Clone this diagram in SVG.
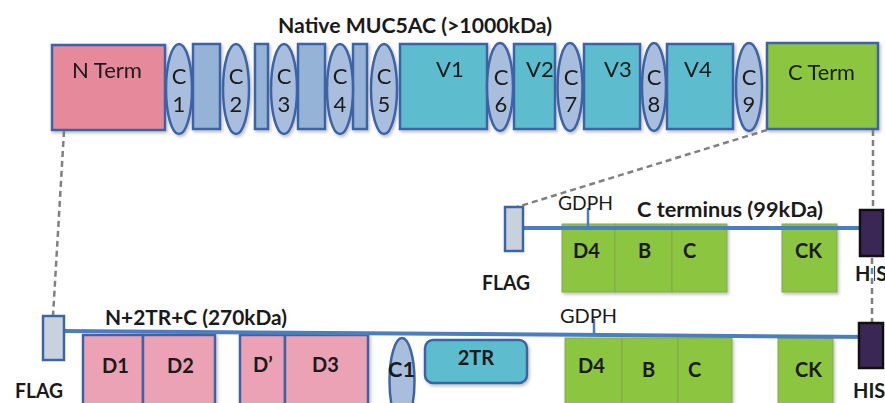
<svg xmlns="http://www.w3.org/2000/svg" width="885" height="403" viewBox="0 0 885 403">
<defs>
<filter id="sh" x="-20%" y="-20%" width="140%" height="140%">
<feDropShadow dx="1.5" dy="2" stdDeviation="1.5" flood-color="#000" flood-opacity="0.25"/>
</filter>
<style>
.b{stroke:#3C64A6;stroke-width:2.5}
.pk{fill:#E6899B}
.pl{fill:#EBA2B4}
.bl{fill:#95B3D7}
.el{fill:#A9BEDD}
.tq{fill:#5DBDCE}
.gr{fill:#8CC540}
.grb{fill:#8CC540;stroke:#86A84E;stroke-width:1}
.fl{fill:#C8D2DF;stroke:#3C64A6;stroke-width:2.5}
.his{fill:#3B2756;stroke:#111;stroke-width:2.5}
.bb{stroke:#4A7EBF;stroke-width:4;fill:none}
.tk{stroke:#4A7EBF;stroke-width:2.5}
.d{stroke:#808080;stroke-width:2.5;stroke-dasharray:6 4;fill:none}
text{font-family:Lato,"Open Sans","Liberation Sans",sans-serif;fill:#1a1a1a}
.r{font-size:22px}
.c{font-size:22px;text-anchor:middle}
.s{font-size:19px}
.bd{font-size:20px;font-weight:bold}
.t{font-size:20px;font-weight:bold}
</style>
</defs>

<text x="278" y="33" class="t" textLength="274" lengthAdjust="spacingAndGlyphs">Native MUC5AC (&gt;1000kDa)</text>

<g id="native" filter="url(#sh)">
<g id="nterm"><rect x="52" y="45" width="113" height="85" class="pk b"/><text x="72" y="78" class="r" textLength="70" lengthAdjust="spacingAndGlyphs">N Term</text></g>
<rect x="193" y="44" width="27" height="85" class="bl b"/>
<rect x="255" y="44" width="13" height="85" class="bl b"/>
<rect x="298" y="44" width="27" height="85" class="bl b"/>
<rect x="353" y="44" width="14" height="85" class="bl b"/>
<g id="v1"><rect x="400" y="44" width="87" height="85" class="tq b"/><text x="436" y="77" class="r">V1</text></g>
<g id="v2"><rect x="514" y="44" width="41" height="85" class="tq b"/><text x="526" y="77" class="r">V2</text></g>
<g id="v3"><rect x="584" y="44" width="56" height="85" class="tq b"/><text x="604" y="77" class="r">V3</text></g>
<g id="v4"><rect x="667" y="44" width="66" height="85" class="tq b"/><text x="684" y="77" class="r">V4</text></g>
<g id="cterm"><rect x="767" y="43" width="111" height="86" class="gr b"/><text x="788" y="80" class="r" textLength="67" lengthAdjust="spacingAndGlyphs">C Term</text></g>
<g id="c1"><ellipse cx="179" cy="89" rx="13" ry="45" class="el b"/><text x="179" y="84" class="c">C</text><text x="179" y="112" class="c">1</text></g>
<g id="c2"><ellipse cx="236" cy="89" rx="13" ry="45" class="el b"/><text x="236" y="84" class="c">C</text><text x="236" y="112" class="c">2</text></g>
<g id="c3"><ellipse cx="284" cy="89" rx="13" ry="45" class="el b"/><text x="284" y="84" class="c">C</text><text x="284" y="112" class="c">3</text></g>
<g id="c4"><ellipse cx="340" cy="89" rx="13" ry="45" class="el b"/><text x="340" y="84" class="c">C</text><text x="340" y="112" class="c">4</text></g>
<g id="c5"><ellipse cx="384" cy="89" rx="13" ry="45" class="el b"/><text x="384" y="84" class="c">C</text><text x="384" y="112" class="c">5</text></g>
<g id="c6"><ellipse cx="500" cy="87" rx="13" ry="44" class="el b"/><text x="501" y="85" class="c">C</text><text x="501" y="112" class="c">6</text></g>
<g id="c7"><ellipse cx="570" cy="87" rx="12.5" ry="44" class="el b"/><text x="571" y="85" class="c">C</text><text x="571" y="112" class="c">7</text></g>
<g id="c8"><ellipse cx="654" cy="87" rx="12" ry="44" class="el b"/><text x="654" y="85" class="c">C</text><text x="654" y="112" class="c">8</text></g>
<g id="c9"><ellipse cx="749" cy="87" rx="13" ry="44" class="el b"/><text x="749" y="85" class="c">C</text><text x="749" y="112" class="c">9</text></g>
</g>

<g id="connectors">
<line x1="64" y1="131" x2="53" y2="316" class="d"/>
<line x1="767" y1="130" x2="517" y2="207" class="d"/>
<line x1="873" y1="130" x2="873" y2="210" class="d"/>
</g>

<g id="cterminus">
<g filter="url(#sh)">
<rect x="562" y="224" width="53" height="68" class="grb"/>
<rect x="615" y="224" width="57" height="68" class="grb"/>
<rect x="672" y="224" width="55" height="68" class="grb"/>
<rect x="782" y="224" width="55" height="68" class="grb"/>
</g>
<line x1="522" y1="228" x2="862" y2="228" class="bb"/>
<line x1="588" y1="208" x2="588" y2="228" class="tk"/>
<rect x="505" y="207" width="18" height="44" class="fl"/>
<rect x="860" y="210" width="23" height="46" class="his"/>
<text x="558" y="210" class="s" textLength="55" lengthAdjust="spacingAndGlyphs">GDPH</text>
<text x="637" y="217" class="t" textLength="186" lengthAdjust="spacingAndGlyphs">C terminus (99kDa)</text>
<text x="573" y="258" class="bd">D4</text>
<text x="638" y="258" class="bd">B</text>
<text x="683" y="258" class="bd">C</text>
<text x="795" y="258" class="bd">CK</text>
<text x="482" y="290" class="bd" textLength="48" lengthAdjust="spacingAndGlyphs">FLAG</text>
<text x="855" y="281" class="bd">HIS</text>
</g>

<g id="his-link">
<line x1="872" y1="258" x2="872" y2="323" stroke="#fff" stroke-width="4"/>
<line x1="872" y1="258" x2="872" y2="323" class="d"/>
</g>

<g id="n2trc">
<g filter="url(#sh)">
<rect x="83" y="335" width="60" height="80" class="pl b"/>
<rect x="143" y="335" width="72" height="80" class="pl b"/>
<rect x="240" y="335" width="45" height="80" class="pl b"/>
<rect x="285" y="335" width="83" height="80" class="pl b"/>
<rect x="565" y="338" width="57" height="80" class="grb"/>
<rect x="622" y="338" width="56" height="80" class="grb"/>
<rect x="678" y="338" width="54" height="80" class="grb"/>
<rect x="778" y="338" width="55" height="80" class="grb"/>
</g>
<line x1="64" y1="331" x2="873" y2="337" class="bb"/>
<line x1="594" y1="319" x2="594" y2="334" class="tk"/>
<rect x="43" y="316" width="21" height="44" class="fl"/>
<rect x="859" y="323" width="24" height="45" class="his"/>
<ellipse cx="402" cy="381" rx="12.5" ry="43" class="el b"/>
<rect x="425" y="340" width="102" height="43" rx="8" class="tq b" filter="url(#sh)"/>
<text x="105" y="325" class="t" textLength="182" lengthAdjust="spacingAndGlyphs">N+2TR+C (270kDa)</text>
<text x="560" y="323" class="s" textLength="57" lengthAdjust="spacingAndGlyphs">GDPH</text>
<text x="102" y="373" class="bd">D1</text>
<text x="167" y="373" class="bd">D2</text>
<text x="253" y="372" class="bd">D’</text>
<text x="312" y="372" class="bd">D3</text>
<text x="388" y="377" class="bd" textLength="27" lengthAdjust="spacingAndGlyphs">C1</text>
<text x="476" y="365" class="bd" text-anchor="middle">2TR</text>
<text x="578" y="373" class="bd">D4</text>
<text x="642" y="377" class="bd">B</text>
<text x="688" y="377" class="bd">C</text>
<text x="795" y="377" class="bd">CK</text>
<text x="15" y="398" class="bd" textLength="48" lengthAdjust="spacingAndGlyphs">FLAG</text>
<text x="853" y="398" class="bd">HIS</text>
</g>
</svg>
